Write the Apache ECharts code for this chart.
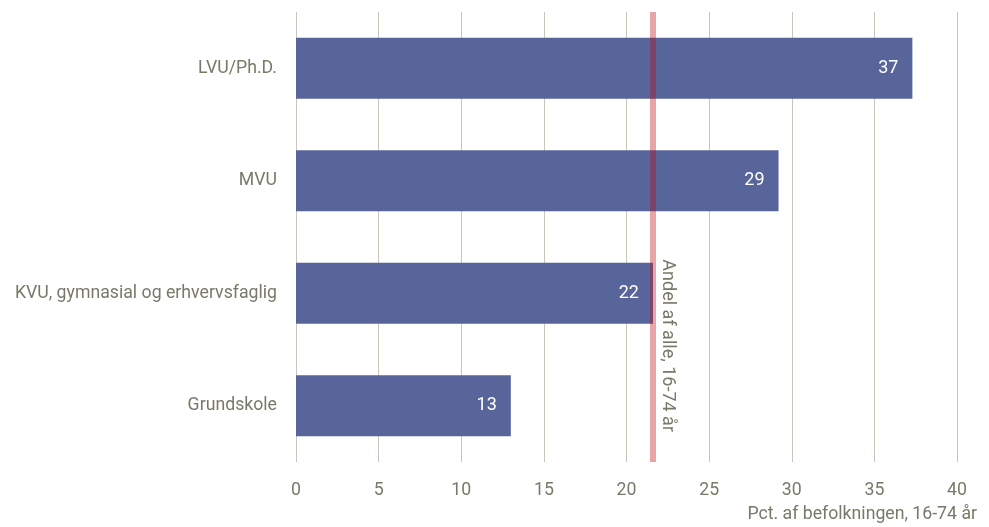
<!DOCTYPE html>
<html>
<head>
<meta charset="utf-8">
<script src="https://cdn.jsdelivr.net/npm/echarts@6/dist/echarts.min.js"></script>
<style>
  html, body { margin: 0; padding: 0; background: #fff; }
  #chart { width: 989px; height: 527px; }
</style>
</head>
<body>
<div id="chart"></div>
<script>
// Education groups, top to bottom
const categories = ['LVU/Ph.D.', 'MVU', 'KVU, gymnasial og erhvervsfaglig', 'Grundskole'];
// Share of each group (pct.)
const shares = [37.3, 29.2, 21.6, 13.0];
// Share of the whole 16-74 population (pct.)
const totalShare = 21.6;
const totalLabel = 'Andel af alle, 16-74 år';
const axisTitle = 'Pct. af befolkningen, 16-74 år';

const FONT = '"Roboto", sans-serif';
const TEXT = '#7a7868';
const SIZE = 17.7;

const chart = echarts.init(document.getElementById('chart'));
chart.setOption({
  animation: false,
  grid: { left: 296, right: 32, top: 12, bottom: 65 },
  xAxis: {
    type: 'value',
    min: 0, max: 40, interval: 5,
    name: axisTitle,
    nameLocation: 'end',
    nameGap: 0,
    nameTextStyle: {
      fontFamily: FONT, fontSize: SIZE, color: TEXT,
      align: 'right', verticalAlign: 'top',
      padding: [44, -20, 0, 0]
    },
    axisLine: { show: false },
    axisTick: { show: false },
    axisLabel: { fontFamily: FONT, fontSize: SIZE, color: TEXT, margin: 20 },
    splitLine: { show: true, lineStyle: { color: '#c9c6b9', width: 1 } }
  },
  yAxis: {
    type: 'category',
    data: categories,
    inverse: true,
    axisLine: { show: false },
    axisTick: { show: false },
    axisLabel: { fontFamily: FONT, fontSize: SIZE, color: TEXT, margin: 19 }
  },
  series: [{
    type: 'bar',
    data: shares,
    barWidth: 61,
    itemStyle: { color: '#58659a' },
    label: {
      show: true,
      position: 'insideRight',
      distance: 14,
      color: '#ffffff',
      fontFamily: FONT,
      fontSize: 18,
      formatter: p => Math.round(p.value)
    },
    markLine: {
      silent: true,
      symbol: 'none',
      lineStyle: { type: 'solid', width: 6, color: 'rgba(192,5,13,0.36)' },
      label: {
        show: true,
        formatter: totalLabel,
        position: 'insideEndTop',
        distance: [30, 6],
        fontFamily: FONT,
        fontSize: 18,
        color: TEXT
      },
      data: [{ xAxis: totalShare }]
    }
  }]
});
</script>
</body>
</html>
